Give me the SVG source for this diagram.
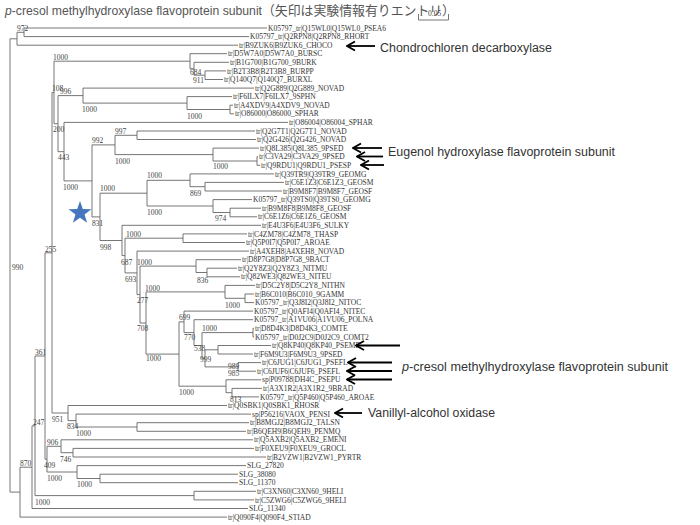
<svg xmlns="http://www.w3.org/2000/svg" width="700" height="525" viewBox="0 0 700 525">
<defs>
<style>
.br{fill:none;stroke:#666;stroke-width:0.9}
.lf{font-family:"Liberation Serif",serif;font-size:7.5px;fill:#333}
.bs{font-family:"Liberation Serif",serif;font-size:7.5px;fill:#444}
.an{font-family:"Liberation Sans",sans-serif;font-size:12.5px;fill:#333}
.ttl{font-family:"Liberation Sans","Noto Sans CJK JP",sans-serif;font-size:13px;fill:#555}
.ar{fill:none;stroke:#000;stroke-width:1.8}
</style>
<marker id="ah" markerUnits="userSpaceOnUse" markerWidth="12" markerHeight="12" refX="1" refY="6" orient="auto">
<path d="M9,1.5 L1,6 L9,10.5" fill="none" stroke="#000" stroke-width="1.9"/>
</marker>
</defs>
<rect width="700" height="525" fill="#fff"/>
<g id="title">
<text class="ttl" x="5" y="14.5" textLength="257" lengthAdjust="spacingAndGlyphs"><tspan font-style="italic">p</tspan>-cresol methylhydroxylase flavoprotein subunit</text>
<text class="ttl" x="262" y="14.5" textLength="193" lengthAdjust="spacingAndGlyphs">（矢印は実験情報有りエントリ）</text>
</g>
<g id="scale">
<path class="br" d="M418.5 14V20H448.5V14"/>
<text class="bs" x="428" y="16" font-size="6">0.05</text>
</g>
<g id="connectors">
<path class="br" d="M10 38.8V492.1M17 32.3V45.2M24 28V36.6M20 467.2V517.1M32 425.8V508.5M35 356V495.6M194 491.3V499.9M45 252.8V459.2M47 446.3V472M61 439.8V452.7M73 448.4V457M77 465.6V478.5M100 474.2V482.7M52 92.5V413M68 405.5V420.6M76 414.1V427M137 422.7V431.3M54 61.2V123.7M190 53.7V68.75M194 62.3V75.2M205 70.9V79.5M58 95.6V151.7M83 88.1V103.1M187 96.6V109.5M230 105.2V113.8M64 122.4V180.9M92 144.9V216.9M115 135.3V154.6M137 131V139.5M213 148.1V161M257 156.7V165.3M100 193.2V240.5M147 180.3V206M190 173.9V186.7M205 182.4V191M213 199.6V212.5M230 208.2V216.8M122 225.3V255.6M125 238.2V272.9M183 233.9V242.5M137 251.1V294.6M140 266.1V323M196 259.7V272.5M207 268.2V276.8M146 291.9V354.1M225 285.4V298.3M245 294V302.6M179 321.9V386.2M184 311.1V332.6M194 319.7V345.5M202 332.6V358.3M253 328.3V336.9M205 349.8V366.9M218 345.5V354M238 362.6V371.2M226 379.8V392.7M232 388.4V396.9"/>
<path class="br" d="M10 38.8H17M17 32.3H24M24 28H267M24 36.6H249M17 45.2H238M10 492.1H20M20 517.1H227M20 467.2H32M32 508.5H248M32 425.8H35M35 495.6H194M194 491.3H256M194 499.9H254M35 356H45M45 459.2H47M47 446.3H61M61 439.8H253M61 452.7H73M73 448.4H254M73 457H266M47 472H77M77 465.6H246M77 478.5H100M100 474.2H238M100 482.7H238M45 252.8H52M52 413H68M68 405.5H227M68 420.6H76M76 414.1H251M76 427H137M137 422.7H249M137 431.3H246M52 92.5H54M54 61.2H190M190 53.7H227M190 68.75H194M194 62.3H229M194 75.2H205M205 70.9H226M205 79.5H223M54 123.7H58M58 95.6H83M83 88.1H254M83 103.1H187M187 96.6H232M187 109.5H230M230 105.2H233M230 113.8H234M58 151.7H64M64 122.4H288M64 180.9H92M92 144.9H115M115 135.3H137M137 131H255M137 139.5H256M115 154.6H213M213 148.1H259M213 161H257M257 156.7H258M257 165.3H260M92 216.9H100M100 193.2H147M147 180.3H190M190 173.9H274M190 186.7H205M205 182.4H284M205 191H282M147 206H213M213 199.6H252M213 212.5H230M230 208.2H261M230 216.8H257M100 240.5H122M122 225.3H261M122 255.6H125M125 238.2H183M183 233.9H247M183 242.5H245M125 272.9H137M137 251.1H249M137 294.6H140M140 266.1H196M196 259.7H241M196 272.5H207M207 268.2H237M207 276.8H240M140 323H146M146 291.9H225M225 285.4H255M225 298.3H245M245 294H254M245 302.6H254M146 354.1H179M179 321.9H184M184 311.1H253M184 332.6H194M194 319.7H253M194 345.5H202M202 332.6H253M253 328.3H254M253 336.9H254M202 358.3H205M205 349.8H218M218 345.5H271M218 354H253M205 366.9H238M238 362.6H261M238 371.2H256M179 386.2H226M226 379.8H261M226 392.7H232M232 388.4H262M232 396.9H259"/>
</g>
<g id="leaves">
<g id="n0"><text class="lf" x="268" y="30.6">K05797_tr|Q15WL0|Q15WL0_PSEA6</text></g>
<g id="n1"><text class="lf" x="250" y="39.2">K05797_tr|Q2RPN8|Q2RPN8_RHORT</text></g>
<g id="n2"><text class="lf" x="239" y="47.8">tr|B9ZUK6|B9ZUK6_CHOCO</text></g>
<g id="n3"><text class="lf" x="228" y="56.3">tr|D5W7A0|D5W7A0_BURSC</text></g>
<g id="n4"><text class="lf" x="230" y="64.9">tr|B1G700|B1G700_9BURK</text></g>
<g id="n5"><text class="lf" x="227" y="73.5">tr|B2T3B8|B2T3B8_BURPP</text></g>
<g id="n6"><text class="lf" x="224" y="82.1">tr|Q140Q7|Q140Q7_BURXL</text></g>
<g id="n7"><text class="lf" x="255" y="90.7">tr|Q2G889|Q2G889_NOVAD</text></g>
<g id="n8"><text class="lf" x="233" y="99.2">tr|F6ILX7|F6ILX7_9SPHN</text></g>
<g id="n9"><text class="lf" x="234" y="107.8">tr|A4XDV9|A4XDV9_NOVAD</text></g>
<g id="n10"><text class="lf" x="235" y="116.4">tr|O86000|O86000_SPHAR</text></g>
<g id="n11"><text class="lf" x="289" y="125">tr|O86004|O86004_SPHAR</text></g>
<g id="n12"><text class="lf" x="256" y="133.6">tr|Q2G7T1|Q2G7T1_NOVAD</text></g>
<g id="n13"><text class="lf" x="257" y="142.1">tr|Q2G426|Q2G426_NOVAD</text></g>
<g id="n14"><text class="lf" x="260" y="150.7">tr|Q8L385|Q8L385_9PSED</text></g>
<g id="n15"><text class="lf" x="259" y="159.3">tr|C3VA29|C3VA29_9PSED</text></g>
<g id="n16"><text class="lf" x="261" y="167.9">tr|Q9RDU1|Q9RDU1_PSESP</text></g>
<g id="n17"><text class="lf" x="275" y="176.5">tr|Q39TR9|Q39TR9_GEOMG</text></g>
<g id="n18"><text class="lf" x="285" y="185">tr|C6E1Z3|C6E1Z3_GEOSM</text></g>
<g id="n19"><text class="lf" x="283" y="193.6">tr|B9M8F7|B9M8F7_GEOSF</text></g>
<g id="n20"><text class="lf" x="253" y="202.2">K05797_tr|Q39TS0|Q39TS0_GEOMG</text></g>
<g id="n21"><text class="lf" x="262" y="210.8">tr|B9M8F8|B9M8F8_GEOSF</text></g>
<g id="n22"><text class="lf" x="258" y="219.4">tr|C6E1Z6|C6E1Z6_GEOSM</text></g>
<g id="n23"><text class="lf" x="262" y="227.9">tr|E4U3F6|E4U3F6_SULKY</text></g>
<g id="n24"><text class="lf" x="248" y="236.5">tr|C4ZM78|C4ZM78_THASP</text></g>
<g id="n25"><text class="lf" x="246" y="245.1">tr|Q5P0I7|Q5P0I7_AROAE</text></g>
<g id="n26"><text class="lf" x="250" y="253.7">tr|A4XEH8|A4XEH8_NOVAD</text></g>
<g id="n27"><text class="lf" x="242" y="262.3">tr|D8P7G8|D8P7G8_9BACT</text></g>
<g id="n28"><text class="lf" x="238" y="270.8">tr|Q2Y8Z3|Q2Y8Z3_NITMU</text></g>
<g id="n29"><text class="lf" x="241" y="279.4">tr|Q82WE3|Q82WE3_NITEU</text></g>
<g id="n30"><text class="lf" x="256" y="288">tr|D5C2Y8|D5C2Y8_NITHN</text></g>
<g id="n31"><text class="lf" x="255" y="296.6">tr|B6C010|B6C010_9GAMM</text></g>
<g id="n32"><text class="lf" x="255" y="305.2">K05797_tr|Q3J8I2|Q3J8I2_NITOC</text></g>
<g id="n33"><text class="lf" x="254" y="313.7">K05797_tr|Q0AFI4|Q0AFI4_NITEC</text></g>
<g id="n34"><text class="lf" x="254" y="322.3">K05797_tr|A1VU06|A1VU06_POLNA</text></g>
<g id="n35"><text class="lf" x="255" y="330.9">tr|D8D4K3|D8D4K3_COMTE</text></g>
<g id="n36"><text class="lf" x="255" y="339.5">K05797_tr|D0J2C9|D0J2C9_COMT2</text></g>
<g id="n37"><text class="lf" x="272" y="348.1">tr|Q8KP40|Q8KP40_PSEME</text></g>
<g id="n38"><text class="lf" x="254" y="356.6">tr|F6M9U3|F6M9U3_9PSED</text></g>
<g id="n39"><text class="lf" x="262" y="365.2">tr|C6JUG1|C6JUG1_PSEFL</text></g>
<g id="n40"><text class="lf" x="257" y="373.8">tr|C6JUF6|C6JUF6_PSEFL</text></g>
<g id="n41"><text class="lf" x="262" y="382.4">sp|P09788|DH4C_PSEPU</text></g>
<g id="n42"><text class="lf" x="263" y="391">tr|A3X1R2|A3X1R2_9BRAD</text></g>
<g id="n43"><text class="lf" x="260" y="399.5">K05797_tr|Q5P460|Q5P460_AROAE</text></g>
<g id="n44"><text class="lf" x="228" y="408.1">tr|Q0SBK1|Q0SBK1_RHOSR</text></g>
<g id="n45"><text class="lf" x="252" y="416.7">sp|P56216|VAOX_PENSI</text></g>
<g id="n46"><text class="lf" x="250" y="425.3">tr|B8MGJ2|B8MGJ2_TALSN</text></g>
<g id="n47"><text class="lf" x="247" y="433.9">tr|B6QEH9|B6QEH9_PENMQ</text></g>
<g id="n48"><text class="lf" x="254" y="442.4">tr|Q5AXB2|Q5AXB2_EMENI</text></g>
<g id="n49"><text class="lf" x="255" y="451">tr|F0XEU9|F0XEU9_GROCL</text></g>
<g id="n50"><text class="lf" x="267" y="459.6">tr|B2VZW1|B2VZW1_PYRTR</text></g>
<g id="n51"><text class="lf" x="247" y="468.2">SLG_27820</text></g>
<g id="n52"><text class="lf" x="239" y="476.8">SLG_38080</text></g>
<g id="n53"><text class="lf" x="239" y="485.3">SLG_11370</text></g>
<g id="n54"><text class="lf" x="257" y="493.9">tr|C3XN60|C3XN60_9HELI</text></g>
<g id="n55"><text class="lf" x="255" y="502.5">tr|C5ZWG6|C5ZWG6_9HELI</text></g>
<g id="n56"><text class="lf" x="249" y="511.1">SLG_11340</text></g>
<g id="n57"><text class="lf" x="228" y="519.7">tr|Q090F4|Q090F4_STIAD</text></g>
</g>
<g id="bootstrap">
<text class="bs" x="17" y="31">972</text>
<text class="bs" x="53" y="59.5">1000</text>
<text class="bs" x="190" y="75">684</text>
<text class="bs" x="193" y="83">911</text>
<text class="bs" x="52" y="91">108</text>
<text class="bs" x="60" y="94">996</text>
<text class="bs" x="82" y="112">1000</text>
<text class="bs" x="187" y="119">1000</text>
<text class="bs" x="53" y="132">200</text>
<text class="bs" x="115" y="134">997</text>
<text class="bs" x="92" y="143">992</text>
<text class="bs" x="58" y="160">443</text>
<text class="bs" x="115" y="164">1000</text>
<text class="bs" x="213" y="169">1000</text>
<text class="bs" x="147" y="178">1000</text>
<text class="bs" x="63" y="190">1000</text>
<text class="bs" x="100" y="191">1000</text>
<text class="bs" x="190" y="196">869</text>
<text class="bs" x="147" y="215">1000</text>
<text class="bs" x="215" y="221">974</text>
<text class="bs" x="92" y="226">831</text>
<text class="bs" x="126" y="237">1000</text>
<text class="bs" x="100" y="250">998</text>
<text class="bs" x="45" y="252">255</text>
<text class="bs" x="121" y="265">687</text>
<text class="bs" x="137" y="265">1000</text>
<text class="bs" x="12" y="270">990</text>
<text class="bs" x="125" y="282">693</text>
<text class="bs" x="197" y="283">836</text>
<text class="bs" x="145" y="291">1000</text>
<text class="bs" x="137" y="303">277</text>
<text class="bs" x="225" y="308">1000</text>
<text class="bs" x="179" y="320">699</text>
<text class="bs" x="202" y="331">1000</text>
<text class="bs" x="137" y="331">708</text>
<text class="bs" x="184" y="340">770</text>
<text class="bs" x="194" y="351">538</text>
<text class="bs" x="35" y="355">361</text>
<text class="bs" x="200" y="362">999</text>
<text class="bs" x="146" y="361">1000</text>
<text class="bs" x="228" y="369">989</text>
<text class="bs" x="228" y="376">985</text>
<text class="bs" x="179" y="395">1000</text>
<text class="bs" x="230" y="402">813</text>
<text class="bs" x="52" y="422">951</text>
<text class="bs" x="33" y="425">247</text>
<text class="bs" x="67" y="429">834</text>
<text class="bs" x="76" y="436">1000</text>
<text class="bs" x="47" y="445">906</text>
<text class="bs" x="60" y="462">746</text>
<text class="bs" x="20" y="466">870</text>
<text class="bs" x="44" y="468">409</text>
<text class="bs" x="47" y="481">1000</text>
<text class="bs" x="77" y="487">1000</text>
<text class="bs" x="35" y="505">1000</text>
</g>
<g id="star">
<polygon points="80,201 82.82,209.12 91.41,209.29 84.56,214.48 87.05,222.71 80,217.8 72.95,222.71 75.44,214.48 68.59,209.29 77.18,209.12" fill="#4677BE"/>
</g>
<g id="arrows">
<path class="ar" marker-start="url(#ah)" d="M347 46H375"/>
<path class="ar" marker-start="url(#ah)" d="M353 148H382"/>
<path class="ar" marker-start="url(#ah)" d="M357 156.5H383"/>
<path class="ar" marker-start="url(#ah)" d="M361 165H384"/>
<path class="ar" marker-start="url(#ah)" d="M356 345.5H400"/>
<path class="ar" marker-start="url(#ah)" d="M348 362.5H392"/>
<path class="ar" marker-start="url(#ah)" d="M347 371H392"/>
<path class="ar" marker-start="url(#ah)" d="M347 379.5H392"/>
<path class="ar" marker-start="url(#ah)" d="M335 413H362"/>
</g>
<g id="annotations">
<text class="an" x="380" y="51.5" textLength="172" lengthAdjust="spacingAndGlyphs">Chondrochloren decarboxylase</text>
<text class="an" x="388" y="155.5" textLength="227" lengthAdjust="spacingAndGlyphs">Eugenol hydroxylase flavoprotein subunit</text>
<text class="an" x="402" y="370.5" textLength="266" lengthAdjust="spacingAndGlyphs"><tspan font-style="italic">p</tspan>-cresol methylhydroxylase flavoprotein subunit</text>
<text class="an" x="368" y="416.5" textLength="127" lengthAdjust="spacingAndGlyphs">Vanillyl-alcohol oxidase</text>
</g>
</svg>
